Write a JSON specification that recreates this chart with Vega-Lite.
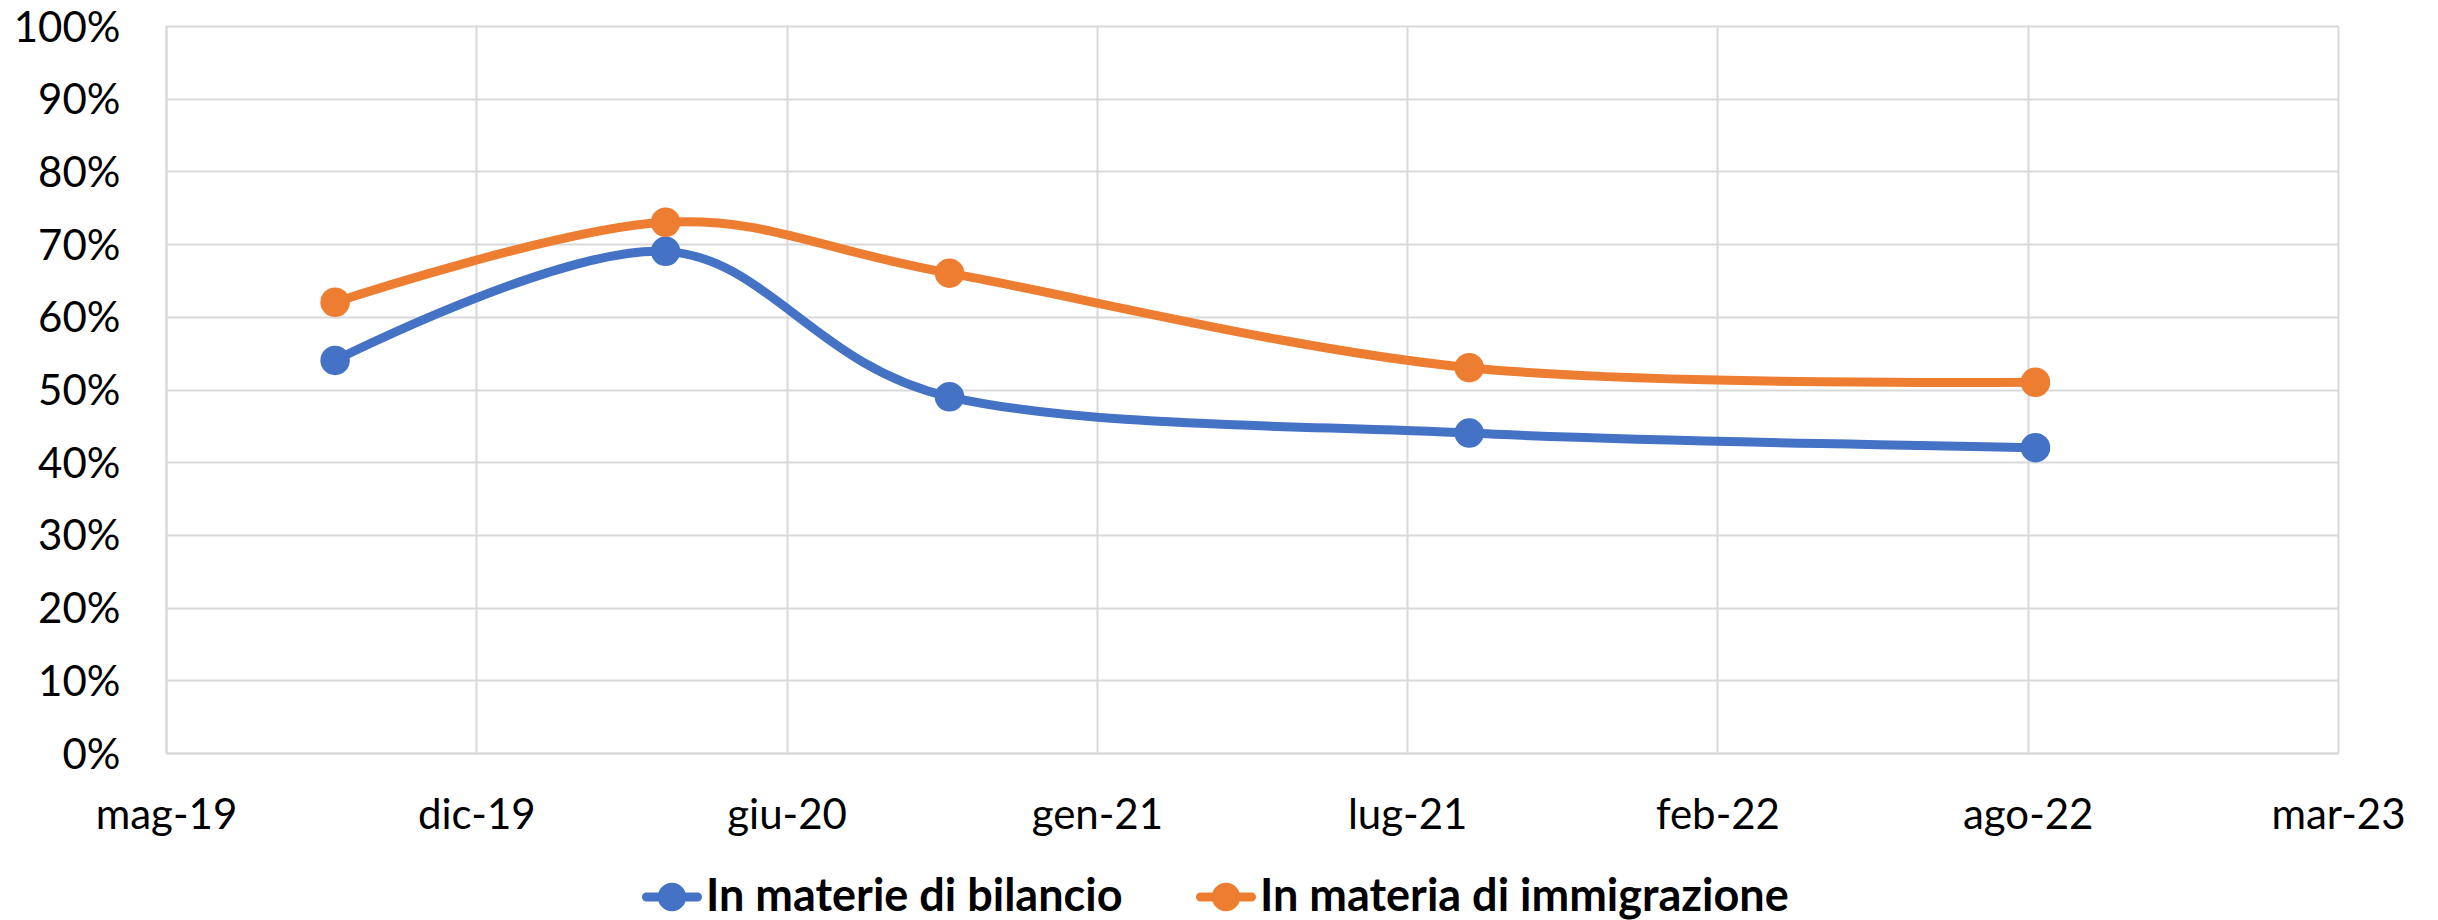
{
  "$schema": "https://vega.github.io/schema/vega-lite/v6.json",
  "width": 2172,
  "height": 727,
  "autosize": {"type": "none"},
  "padding": {"left": 166, "top": 26, "right": 100, "bottom": 167},
  "background": "white",
  "data": {
    "values": [
      {"series": "In materie di bilancio", "date": "2019-09-01", "value": 0.54},
      {"series": "In materie di bilancio", "date": "2020-04-01", "value": 0.69},
      {"series": "In materie di bilancio", "date": "2020-10-01", "value": 0.49},
      {"series": "In materie di bilancio", "date": "2021-09-01", "value": 0.44},
      {"series": "In materie di bilancio", "date": "2022-09-01", "value": 0.42},
      {"series": "In materia di immigrazione", "date": "2019-09-01", "value": 0.62},
      {"series": "In materia di immigrazione", "date": "2020-04-01", "value": 0.73},
      {"series": "In materia di immigrazione", "date": "2020-10-01", "value": 0.66},
      {"series": "In materia di immigrazione", "date": "2021-09-01", "value": 0.53},
      {"series": "In materia di immigrazione", "date": "2022-09-01", "value": 0.51}
    ]
  },
  "encoding": {
    "x": {
      "field": "date",
      "type": "temporal",
      "scale": {
        "type": "utc",
        "domain": [
          {"year": 2019, "month": 5, "date": 15, "utc": true},
          {"year": 2023, "month": 3, "date": 15, "utc": true}
        ]
      },
      "axis": {
        "title": null,
        "values": [
          {"year": 2019, "month": 5, "date": 15, "utc": true},
          {"year": 2019, "month": 12, "date": 1, "utc": true},
          {"year": 2020, "month": 6, "date": 18, "utc": true},
          {"year": 2021, "month": 1, "date": 4, "utc": true},
          {"year": 2021, "month": 7, "date": 23, "utc": true},
          {"year": 2022, "month": 2, "date": 8, "utc": true},
          {"year": 2022, "month": 8, "date": 27, "utc": true},
          {"year": 2023, "month": 3, "date": 15, "utc": true}
        ],
        "labelExpr": "['gen','feb','mar','apr','mag','giu','lug','ago','set','ott','nov','dic'][utcmonth(datum.value)] + '-' + utcFormat(datum.value, '%y')",
        "grid": true,
        "ticks": false,
        "labelPadding": 75,
        "labelBaseline": "alphabetic",
        "labelFlush": false,
        "labelOverlap": false,
        "labelBound": false
      }
    },
    "y": {
      "field": "value",
      "type": "quantitative",
      "scale": {"domain": [0, 1], "nice": false, "zero": true},
      "axis": {
        "title": null,
        "values": [0, 0.1, 0.2, 0.3, 0.4, 0.5, 0.6, 0.7, 0.8, 0.9, 1],
        "format": ".0%",
        "grid": true,
        "ticks": false,
        "labelPadding": 46,
        "labelBaseline": "alphabetic",
        "labelOffset": 15,
        "labelOverlap": false,
        "labelFlush": false,
        "labelBound": false
      }
    },
    "color": {
      "field": "series",
      "type": "nominal",
      "sort": ["In materie di bilancio", "In materia di immigrazione"],
      "scale": {
        "domain": ["In materie di bilancio", "In materia di immigrazione"],
        "range": ["#4472C4", "#ED7D31"]
      },
      "legend": {
        "orient": "none",
        "legendX": 476,
        "legendY": 841,
        "direction": "horizontal",
        "title": null,
        "symbolType": "M-0.847,-0.153 L0.847,-0.153 A0.153,0.153 0 0,1 0.847,0.153 L-0.847,0.153 A0.153,0.153 0 0,1 -0.847,-0.153 Z M-0.475,0 A0.475,0.475 0 1,1 0.475,0 A0.475,0.475 0 1,1 -0.475,0 Z",
        "symbolSize": 3600,
        "symbolStrokeWidth": 0,
        "symbolOpacity": 1,
        "labelFont": "Lato",
        "labelFontSize": 45,
        "labelFontWeight": "bold",
        "labelColor": "#000000",
        "labelOffset": 4,
        "columnPadding": 72,
        "padding": 0,
        "labelLimit": 1000,
        "encode": {
          "symbols": {
            "update": {
              "fill": {"scale": "color", "field": "value"},
              "stroke": {"value": "transparent"}
            }
          }
        }
      }
    }
  },
  "layer": [
    {
      "mark": {"type": "line", "interpolate": "cardinal", "strokeWidth": 9, "strokeCap": "round", "strokeJoin": "round"}
    },
    {
      "mark": {"type": "point", "filled": true, "shape": "circle", "size": 870, "opacity": 1, "strokeWidth": 0}
    }
  ],
  "config": {
    "font": "Lato",
    "view": {"stroke": null},
    "axis": {
      "labelFont": "Lato",
      "labelFontSize": 42,
      "labelColor": "#000000",
      "gridColor": "#d9d9d9",
      "gridWidth": 2,
      "domainColor": "#d9d9d9",
      "domainWidth": 2
    }
  }
}
